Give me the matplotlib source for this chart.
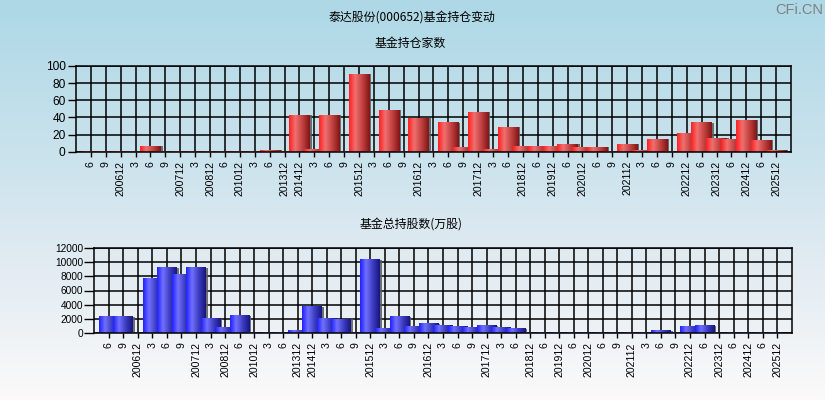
import numpy as np
import matplotlib
matplotlib.use("Agg")
import matplotlib.pyplot as plt
from matplotlib.colors import LinearSegmentedColormap
from matplotlib.patches import Rectangle

# Reporting periods (year+month at year end, month only otherwise)
periods = ['6', '9', '200612', '3', '6', '9', '200712', '3', '200812', '6',
           '201012', '3', '6', '201312', '201412', '3', '6', '9', '201512', '3',
           '6', '9', '201612', '3', '6', '9', '201712', '3', '6', '201812',
           '6', '201912', '6', '202012', '6', '9', '202112', '3', '6', '9',
           '202212', '6', '202312', '6', '202412', '6', '202512']

# Number of funds holding the stock
fund_counts = [1, 1, 1, 1, 7, 1, 1, 1, 1, 1,
               1, 1, 2, 1, 43, 3, 43, 1, 91, 1,
               49, 1, 39, 1, 34, 5, 46, 3, 29, 7,
               7, 7, 9, 5, 5, 1, 9, 2, 15, 1,
               22, 34, 16, 15, 37, 14, 2]

# Total shares held by funds (10k shares)
fund_shares = [2300, 2300, 100, 7600, 9150, 8170, 9150, 2000, 750, 2430,
               100, 100, 100, 330, 3740, 2000, 1950, 100, 10270, 600,
               2290, 890, 1310, 1030, 890, 750, 1030, 750, 600, 100,
               100, 100, 100, 100, 100, 100, 100, 100, 330, 100,
               890, 1030, 100, 100, 100, 100, 80]

CJK = ['Noto Sans CJK SC', 'DejaVu Sans']
LATIN = 'Liberation Sans'

W, H = 825, 400
fig = plt.figure(figsize=(W / 100, H / 100), dpi=100)

# vertical background wash, light blue at the top fading to near white
bg = fig.add_axes([0, 0, 1, 1], zorder=-10)
bg_cmap = LinearSegmentedColormap.from_list(
    'bg', [(0.0, '#add8e6'), (0.4, '#cbe3ed'), (0.6, '#dde9f1'),
           (0.85, '#eff3f6'), (1.0, '#fcfafa')])
bg.imshow(np.linspace(0, 1, 256)[:, None], cmap=bg_cmap, aspect='auto',
          extent=(0, 1, 0, 1), origin='upper')
bg.set_axis_off()

red_cmap = LinearSegmentedColormap.from_list(
    'red_bar', [(0.0, '#ff2020'), (0.3, '#f07070'), (0.65, '#c04040'),
                (1.0, '#801515')])
blue_cmap = LinearSegmentedColormap.from_list(
    'blue_bar', [(0.0, '#2020ff'), (0.3, '#7070ff'), (0.65, '#3c3cc0'),
                 (1.0, '#151580')])
bar_grad = np.linspace(0, 1, 64)[None, :]


def px_box(left, top, right, bottom):
    return [left / W, 1 - bottom / H, (right - left) / W, (bottom - top) / H]


def draw_panel(ax, values, cmap, ymax, ystep, ylab_size, ytick_len, ytick_pad):
    n = len(values)
    width = 1.36
    for i, v in enumerate(values):
        x0, x1 = i - width / 2, i + width / 2
        z = 2 + i * 0.01
        ax.add_patch(Rectangle((x1 - 0.02, 0), 0.15, v, facecolor='#5a5a5a',
                               edgecolor='none', alpha=0.85, zorder=z))
        ax.imshow(bar_grad, cmap=cmap, extent=(x0, x1, 0, v), aspect='auto',
                  interpolation='bilinear', zorder=z + 0.001)
    ax.set_xlim(-1, n)
    ax.set_ylim(0, ymax)
    ax.set_facecolor('none')
    ax.set_axisbelow(True)
    ax.set_xticks(range(n))
    ax.set_xticklabels(periods, rotation=90, fontsize=7.6, family=LATIN)
    ax.set_yticks(np.arange(0, ymax + 1, ystep))
    ax.set_yticklabels([str(int(t)) for t in np.arange(0, ymax + 1, ystep)],
                       fontsize=ylab_size, family=LATIN)
    ax.tick_params(axis='x', length=3.5, width=1, pad=3.0, color='black')
    ax.tick_params(axis='y', length=ytick_len, width=1, pad=ytick_pad,
                   color='black')
    ax.grid(True, color='black', linewidth=1.1)
    for s in ax.spines.values():
        s.set_color('black')
        s.set_linewidth(1.1)


ax1 = fig.add_axes(px_box(76, 66, 791, 151.7))
draw_panel(ax1, fund_counts, red_cmap, 100, 20, 8.6, 5.5, 2.0)

ax2 = fig.add_axes(px_box(94.3, 247.7, 791.7, 333.3))
draw_panel(ax2, fund_shares, blue_cmap, 12000, 2000, 7.3, 7.5, 0.5)

fig.text(411.7 / W, 1 - 17 / H, '泰达股份(000652)基金持仓变动', ha='center',
         va='center', fontsize=8.6, family=CJK)
fig.text(410.7 / W, 1 - 43 / H, '基金持仓家数', ha='center', va='center',
         fontsize=8.6, family=CJK)
fig.text(411.5 / W, 1 - 224 / H, '基金总持股数(万股)', ha='center', va='center',
         fontsize=8.6, family=CJK)
fig.text(799 / W, 1 - 10 / H, 'CFi.CN', ha='center', va='center',
         fontsize=10.5, color='#808080', family=LATIN)

fig.savefig('out.png', dpi=100)
